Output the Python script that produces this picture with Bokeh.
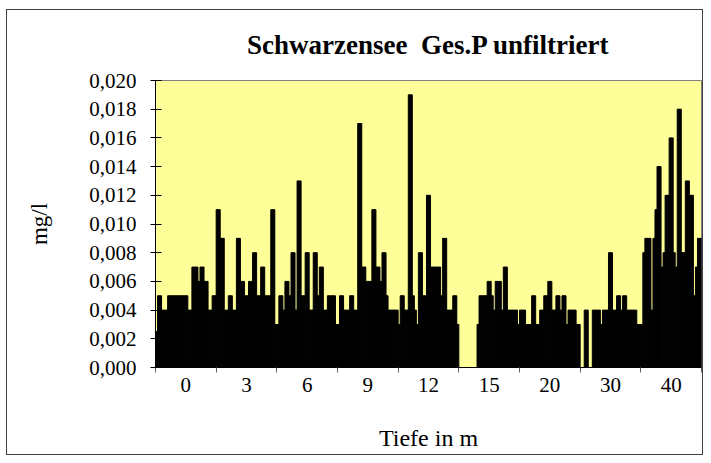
from bokeh.plotting import figure
from bokeh.models import Range1d, FixedTicker, CustomJSTickFormatter, ColumnDataSource
from bokeh.embed import file_html
from bokeh.resources import INLINE

# Depth categories (Tiefe in m)
depth_labels = ["0", "3", "6", "9", "12", "15", "20", "30", "40"]

# Ges.P unfiltriert (mg/l), one list per depth, samples in order
gesp_0m = [0.0025, 0.005, 0.005, 0.004, 0.004, 0.004, 0.005, 0.005, 0.005, 0.005,
           0.005, 0.005, 0.005, 0.005, 0.005, 0.005, 0.004, 0.004, 0.007, 0.007,
           0.007, 0.006, 0.007, 0.007, 0.006, 0.006, 0.004, 0.004, 0.005, 0.005]
gesp_3m = [0.011, 0.011, 0.009, 0.009, 0.004, 0.004, 0.005, 0.005, 0.004, 0.004,
           0.009, 0.009, 0.006, 0.006, 0.005, 0.005, 0.006, 0.006, 0.008, 0.008,
           0.005, 0.005, 0.007, 0.007, 0.005, 0.005, 0.005, 0.011, 0.011, 0.003]
gesp_6m = [0.003, 0.005, 0.005, 0.004, 0.006, 0.006, 0.005, 0.008, 0.008, 0.004,
           0.013, 0.013, 0.005, 0.005, 0.008, 0.008, 0.004, 0.004, 0.008, 0.008,
           0.005, 0.007, 0.007, 0.004, 0.004, 0.005, 0.005, 0.005, 0.005, 0.003]
gesp_9m = [0.003, 0.005, 0.005, 0.004, 0.004, 0.004, 0.005, 0.005, 0.004, 0.004,
           0.017, 0.017, 0.007, 0.007, 0.006, 0.006, 0.006, 0.011, 0.011, 0.007,
           0.007, 0.006, 0.008, 0.008, 0.005, 0.004, 0.004, 0.004, 0.004, 0.004]
gesp_12m = [0.003, 0.005, 0.005, 0.004, 0.004, 0.019, 0.019, 0.005, 0.004, 0.003,
            0.008, 0.008, 0.005, 0.005, 0.012, 0.012, 0.007, 0.007, 0.007, 0.007,
            0.007, 0.005, 0.009, 0.009, 0.004, 0.004, 0.004, 0.005, 0.005, 0.003]
gesp_15m = [0.0, 0.0, 0.0, 0.0, 0.0, 0.0, 0.0, 0.0, 0.0, 0.003,
            0.005, 0.005, 0.005, 0.005, 0.006, 0.006, 0.005, 0.004, 0.006, 0.006,
            0.006, 0.004, 0.007, 0.007, 0.004, 0.004, 0.004, 0.004, 0.004, 0.003]
gesp_20m = [0.004, 0.004, 0.004, 0.003, 0.003, 0.003, 0.005, 0.005, 0.003, 0.003,
            0.004, 0.004, 0.005, 0.005, 0.006, 0.006, 0.004, 0.004, 0.005, 0.005,
            0.004, 0.005, 0.005, 0.003, 0.004, 0.004, 0.004, 0.004, 0.003, 0.003]
gesp_30m = [0.0, 0.0, 0.004, 0.004, 0.0, 0.0, 0.004, 0.004, 0.004, 0.004,
            0.003, 0.004, 0.004, 0.004, 0.008, 0.008, 0.004, 0.004, 0.005, 0.005,
            0.004, 0.005, 0.005, 0.004, 0.004, 0.004, 0.004, 0.004, 0.003, 0.003]
gesp_40m = [0.003, 0.008, 0.009, 0.009, 0.009, 0.004, 0.009, 0.011, 0.014, 0.014,
            0.007, 0.008, 0.012, 0.012, 0.016, 0.016, 0.008, 0.007, 0.018, 0.018,
            0.008, 0.008, 0.013, 0.013, 0.012, 0.012, 0.005, 0.007, 0.009, 0.009]

y_ticks = [0.0, 0.002, 0.004, 0.006, 0.008, 0.010, 0.012, 0.014, 0.016, 0.018, 0.020]

series = [gesp_0m, gesp_3m, gesp_6m, gesp_9m, gesp_12m,
          gesp_15m, gesp_20m, gesp_30m, gesp_40m]
n = len(gesp_0m)

xs, tops = [], []
for gi, vals in enumerate(series):
    for j, v in enumerate(vals):
        xs.append(gi * n + j + 0.5)
        tops.append(v)
src = ColumnDataSource(data=dict(x=xs, top=tops))

W, H = 703, 455
p = figure(width=W, height=H, output_backend="svg", toolbar_location=None,
           x_range=Range1d(0, n * len(series)), y_range=Range1d(0, 0.020),
           min_border_left=155, min_border_right=2, min_border_top=80,
           min_border_bottom=88)

# outer chart border (drawn as CSS background behind a transparent border fill)
line = "linear-gradient(#404040,#404040)"
bg = (f"{line} 6px 9px / 697px 1px no-repeat, "
      f"{line} 6px 454px / 697px 1px no-repeat, "
      f"{line} 6px 9px / 1px 446px no-repeat, "
      f"{line} 702px 9px / 1px 446px no-repeat, "
      "#ffffff")
p.styles = {"background": bg}
p.border_fill_color = None

p.title.text = "Schwarzensee \u00a0Ges.P unfiltriert"
p.title.align = "center"
p.title.text_font = "Liberation Serif"
p.title.text_font_style = "bold"
p.title.text_font_size = "27px"
p.title.text_color = "black"
p.title.standoff = 41

p.background_fill_color = "#FFFF99"
p.outline_line_color = "#808080"
p.outline_line_width = 1
p.xgrid.visible = False
p.ygrid.visible = False

p.vbar(x="x", top="top", bottom=0, width=1, source=src,
       fill_color="black", line_color="black", line_width=1)

# Y axis
ya = p.yaxis[0]
ya.ticker = FixedTicker(ticks=y_ticks)
ya.formatter = CustomJSTickFormatter(code="return tick.toFixed(3).replace('.', ',');")
ya.major_tick_in = 6
ya.major_tick_out = 5
ya.minor_tick_line_color = None
ya.axis_line_color = "black"
ya.major_tick_line_color = "black"
ya.major_label_text_font = "Liberation Serif"
ya.major_label_text_font_size = "21px"
ya.major_label_text_color = "black"
ya.major_label_standoff = 14
ya.axis_label = "mg/l"
ya.axis_label_text_font = "Liberation Serif"
ya.axis_label_text_font_style = "normal"
ya.axis_label_text_font_size = "23px"
ya.axis_label_text_color = "black"
ya.axis_label_standoff = 34

# X axis
xa = p.xaxis[0]
xa.ticker = FixedTicker(ticks=[n * i + n // 2 for i in range(len(series))],
                        minor_ticks=[n * i for i in range(len(series) + 1)])
xa.formatter = CustomJSTickFormatter(args=dict(labels=depth_labels, n=n),
                                     code="return labels[Math.floor(tick / n)];")
xa.major_tick_in = 0
xa.major_tick_out = 0
xa.minor_tick_in = 0
xa.minor_tick_out = 5
xa.minor_tick_line_color = "#606060"
xa.axis_line_color = "black"
xa.major_label_text_font = "Liberation Serif"
xa.major_label_text_font_size = "21px"
xa.major_label_text_color = "black"
xa.major_label_standoff = 5
xa.axis_label = "Tiefe in m"
xa.axis_label_text_font = "Liberation Serif"
xa.axis_label_text_font_style = "normal"
xa.axis_label_text_font_size = "24px"
xa.axis_label_text_color = "black"
xa.axis_label_standoff = 30

open("out.html", "w").write(file_html(p, INLINE))
